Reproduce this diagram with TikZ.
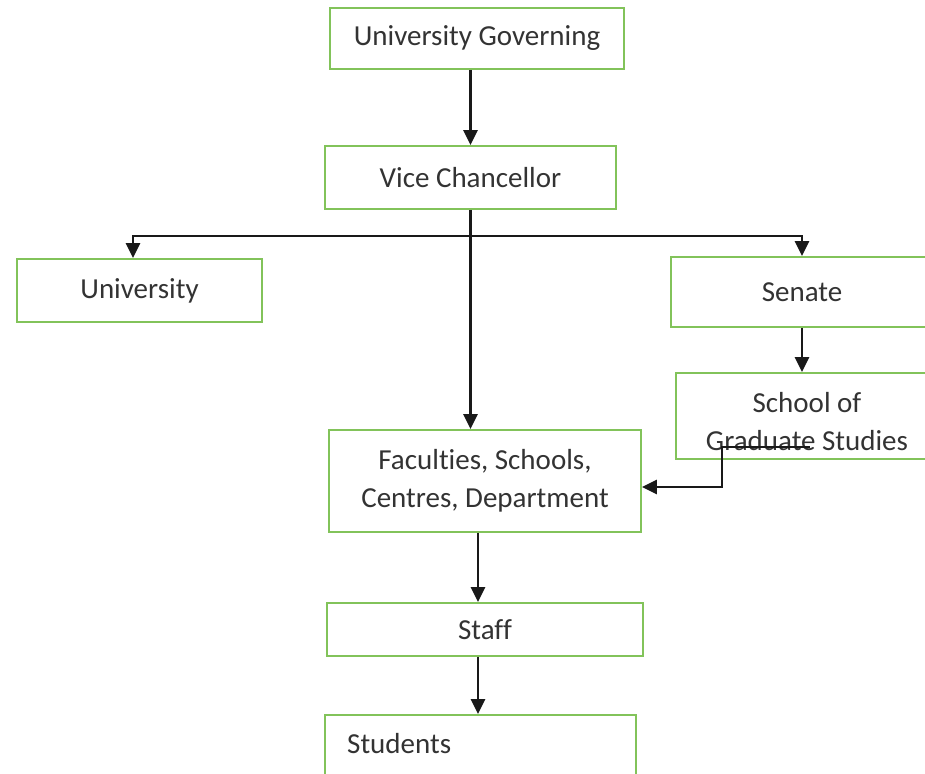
\documentclass[tikz,border=0pt]{standalone}
\usepackage{fontspec}
\setmainfont{Carlito}[Ligatures=NoCommon]
\usetikzlibrary{arrows.meta}
\definecolor{boxgreen}{RGB}{130,195,90}
\tikzset{
	orgbox/.style={draw=boxgreen, line width=1.8pt, fill=white, inner sep=0pt, text=black!80, font=\fontsize{29}{38}\selectfont, align=center},
	orgtext/.style={inner sep=0pt, text=black!80, font=\fontsize{29}{38}\selectfont, align=center},
	orgarrow/.style={draw=black!90, line width=2.4pt, -{Triangle[length=15pt,width=14pt]}}
}

\begin{document}
\begin{tikzpicture}[x=1pt, y=-1pt]
		%%%%% START %%%%%
		\useasboundingbox (0, 0) rectangle (925, 773);
		
		\node[orgbox, minimum width=294pt, minimum height=61pt] (gov) at (477, 38.5) {University Governing};
		\node[orgbox, minimum width=291pt, minimum height=63pt] (vc) at (470.5, 177.5) {Vice Chancellor};
		
		\node[orgbox, minimum width=245pt, minimum height=63pt] (univ) at (139.5, 290.5) {University};
		\node[orgbox, minimum width=262pt, minimum height=70pt] (senate) at (802, 292) {Senate};
		
		\node[orgbox, minimum width=262pt, minimum height=86pt] (school) at (807, 416) {};
		\node[orgtext, anchor=base] (schooltxt) at (807, 450) {School of\\Graduate Studies};
		
		\node[orgbox, minimum width=312pt, minimum height=102pt] (fac) at (485, 481) {Faculties, Schools,\\Centres, Department};
		\node[orgbox, minimum width=316pt, minimum height=53pt] (staff) at (485, 629.5) {Staff};
		
		\node[orgbox, minimum width=311pt, minimum height=80pt] (stud) at (480.5, 755) {};
		\node[orgtext, anchor=base west] (studtxt) at (347, 753) {Students};
		
		% connectors
		\draw[orgarrow] (gov.south -| vc.north) -- (vc.north);
		\draw[orgarrow] (vc.south) -- (vc.south |- fac.north);
		
		\coordinate (bus) at (470.5, 236);
		\draw[orgarrow] (bus) -| ([xshift=-6.5pt]univ.north);
		\draw[orgarrow] (bus) -| (senate.north);
		\draw[orgarrow] (senate.south) -- (senate.south |- school.north);
		
		\coordinate (gsout) at (810, 447);
		\draw[orgarrow] (gsout) -- (722, 447) |- ([yshift=-6pt]fac.east);
		
		\draw[orgarrow] ([xshift=-7pt]fac.south) -- ([xshift=-7pt]staff.north);
		\draw[orgarrow] ([xshift=-7pt]staff.south) -- ([xshift=-7pt]staff.south |- stud.north);
		
		%%%%% END %%%%%
	\end{tikzpicture}
\end{document}
